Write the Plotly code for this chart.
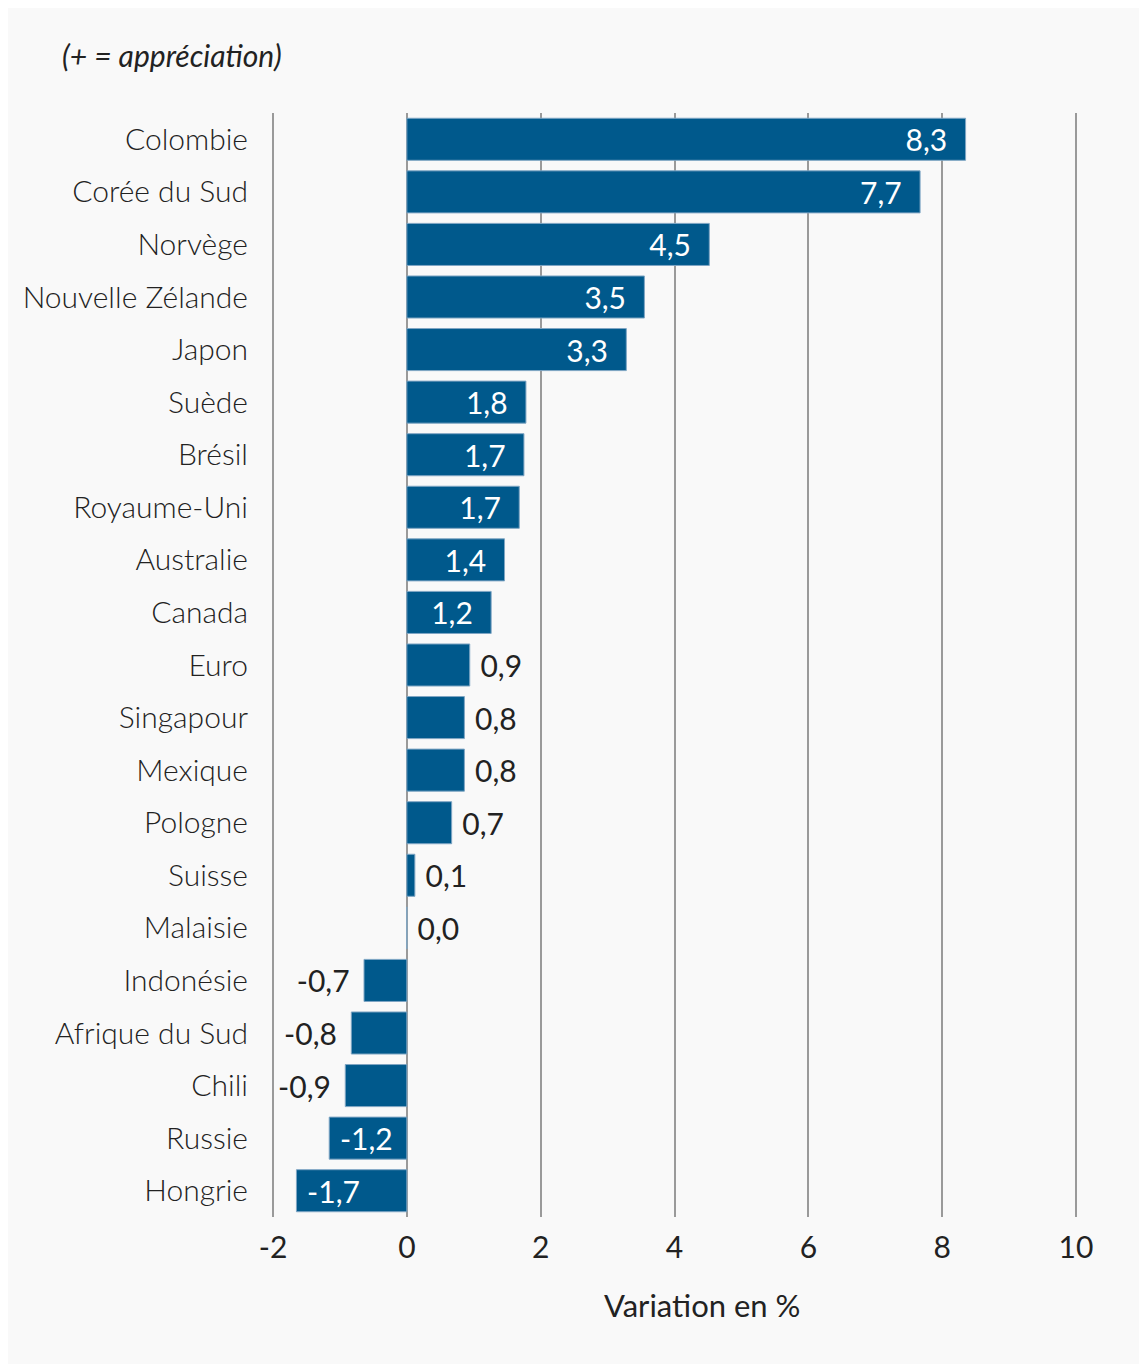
import plotly.graph_objects as go

# the page puts the figure 8px in from the top-left corner, so the figure
# is drawn 8px smaller and the margins are shifted to land on the reference
FIG_WIDTH = 1139
FIG_HEIGHT = 1356
MARGIN = dict(l=263, r=69, t=105, b=147)
PLOT_W = FIG_WIDTH - MARGIN["l"] - MARGIN["r"]
PLOT_H = FIG_HEIGHT - MARGIN["t"] - MARGIN["b"]

BAR_COLOR = "#00598C"
BG_COLOR = "#F9F9F9"
GRID_COLOR = "#9A9A9A"
TEXT_COLOR = "#222222"
FONT = "Lato"
NBSP = "\u00a0"
THIN = "\u2009"

countries = [
    "Colombie", "Corée du Sud", "Norvège", "Nouvelle Zélande", "Japon",
    "Suède", "Brésil", "Royaume-Uni", "Australie", "Canada", "Euro",
    "Singapour", "Mexique", "Pologne", "Suisse", "Malaisie", "Indonésie",
    "Afrique du Sud", "Chili", "Russie", "Hongrie",
]
values = [
    8.35, 7.67, 4.52, 3.55, 3.28, 1.78, 1.75, 1.68, 1.46, 1.26, 0.94,
    0.86, 0.86, 0.67, 0.12, 0.0, -0.64, -0.83, -0.92, -1.16, -1.65,
]
labels = [
    "8,3", "7,7", "4,5", "3,5", "3,3", "1,8", "1,7", "1,7", "1,4", "1,2", "0,9",
    "0,8", "0,8", "0,7", "0,1", "0,0", "-0,7", "-0,8", "-0,9", "-1,2", "-1,7",
]
x_ticks = [-2, 0, 2, 4, 6, 8, 10]

# big bars carry the label inside, small ones outside; pad with spaces
inside = [abs(v) >= 1.0 for v in values]
positions = ["inside" if i else "outside" for i in inside]
text_colors = ["white" if i else TEXT_COLOR for i in inside]
shown = []
for lab, v, i in zip(labels, values, inside):
    if i and v > 0:
        shown.append(lab + NBSP + NBSP)
    elif i:
        shown.append(NBSP + lab)
    elif v < 0:
        shown.append(lab + NBSP + THIN)
    else:
        shown.append(NBSP + lab)

fig = go.Figure()
fig.add_trace(
    go.Bar(
        x=values,
        y=countries,
        orientation="h",
        marker=dict(color=BAR_COLOR, line=dict(color="#7FA6C4", width=1)),
        width=0.8,
        text=shown,
        textposition=positions,
        insidetextanchor="end",
        constraintext="none",
        cliponaxis=False,
        textfont=dict(family=FONT, size=30, color=text_colors),
        hoverinfo="skip",
    )
)

fig.update_layout(
    width=FIG_WIDTH,
    height=FIG_HEIGHT,
    margin=MARGIN,
    paper_bgcolor=BG_COLOR,
    plot_bgcolor=BG_COLOR,
    showlegend=False,
    font=dict(family=FONT, color=TEXT_COLOR),
)
fig.update_xaxes(
    range=[-2.03, 10.03],
    tickvals=x_ticks,
    ticktext=[str(t) for t in x_ticks],
    showgrid=True,
    gridcolor=GRID_COLOR,
    gridwidth=2,
    zeroline=True,
    zerolinecolor=GRID_COLOR,
    zerolinewidth=2,
    tickfont=dict(family=FONT, size=30, color=TEXT_COLOR),
    ticks="",
    ticklabelstandoff=10,
)
fig.update_yaxes(
    categoryorder="array",
    categoryarray=countries,
    autorange="reversed",
    showgrid=False,
    ticks="",
    ticklabelstandoff=22,
    tickfont=dict(family=FONT, size=30, color=TEXT_COLOR, weight=300),
)
fig.add_annotation(
    text="(+ = appréciation)",
    xref="paper",
    yref="paper",
    x=(52 - MARGIN["l"]) / PLOT_W,
    y=1 + (MARGIN["t"] - 47) / PLOT_H,
    xanchor="left",
    yanchor="middle",
    showarrow=False,
    font=dict(family=FONT, size=30, color=TEXT_COLOR, style="italic"),
)
fig.add_annotation(
    text="Variation en %",
    xref="paper",
    yref="paper",
    x=(694 - MARGIN["l"]) / PLOT_W,
    y=-88 / PLOT_H,
    xanchor="center",
    yanchor="middle",
    showarrow=False,
    font=dict(family=FONT, size=31, color=TEXT_COLOR),
)

fig.write_html("out.html")
